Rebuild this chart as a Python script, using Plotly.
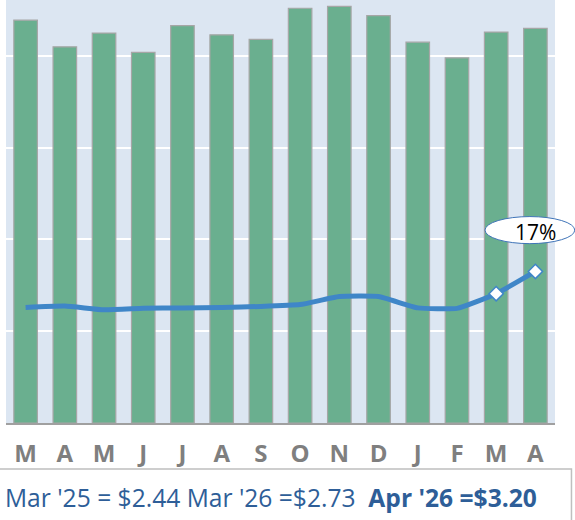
import plotly.graph_objects as go

# monthly bars (left axis, arbitrary units) and price line (right axis, $)
months = ["M", "A", "M", "J", "J", "A", "S", "O", "N", "D", "J", "F", "M", "A"]
volume = [4.39, 4.10, 4.25, 4.04, 4.33, 4.23, 4.18, 4.52, 4.54, 4.44, 4.15, 3.98, 4.26, 4.30]
price = [2.44, 2.47, 2.39, 2.42, 2.43, 2.44, 2.46, 2.50, 2.67, 2.67, 2.43, 2.42, 2.73, 3.20]
change_label = "17%"
summary_plain = "Mar '25 = $2.44 Mar '26 =$2.73&nbsp;&nbsp;"
summary_bold = "Apr '26 =$3.20"

x_pos = list(range(len(months)))

BAR_GREEN = "#6AAF8F"
LINE_BLUE = "#3F86C8"
TEXT_BLUE = "#2E5E98"

fig = go.Figure()

fig.add_trace(go.Bar(
    x=x_pos,
    y=volume,
    marker=dict(color=BAR_GREEN, line=dict(color="#A6A6A6", width=1.2)),
    width=0.6,
    yaxis="y",
    hoverinfo="skip",
))

fig.add_trace(go.Scatter(
    x=x_pos,
    y=price,
    mode="lines",
    line=dict(color=LINE_BLUE, width=5, shape="spline", smoothing=0.4),
    yaxis="y2",
    hoverinfo="skip",
))

# white diamond markers on the last two months only
fig.add_trace(go.Scatter(
    x=x_pos[-2:],
    y=price[-2:],
    mode="markers",
    marker=dict(symbol="diamond", size=11, color="white",
                line=dict(color=LINE_BLUE, width=1.5)),
    yaxis="y2",
    hoverinfo="skip",
))

# callout bubble with percentage change
fig.add_shape(
    type="circle", xref="paper", yref="paper",
    x0=0.8725, x1=1.036, y0=0.424, y1=0.488,
    fillcolor="white", line=dict(color="#3F74B8", width=1),
    layer="above",
)
fig.add_annotation(
    xref="paper", yref="paper", x=0.9636, y=0.452,
    text=change_label, showarrow=False,
    font=dict(family="Open Sans", size=21, color="black"),
    xanchor="center", yanchor="middle",
)

# summary text box below the axis
fig.add_shape(
    type="rect", xref="paper", yref="paper",
    x0=-0.02, x1=1.03, y0=-0.3, y1=-0.109,
    line=dict(color="#BFBFBF", width=1.5), fillcolor="rgba(0,0,0,0)",
    layer="above",
)
fig.add_annotation(
    xref="paper", yref="paper", x=-0.006, y=-0.175,
    text=summary_plain + "<b>" + summary_bold + "</b>",
    showarrow=False, xanchor="left", yanchor="middle",
    font=dict(family="Open Sans", size=24.6, color=TEXT_BLUE),
)

fig.update_layout(
    width=575,
    height=520,
    margin=dict(l=6, r=20, t=0, b=97),
    paper_bgcolor="white",
    plot_bgcolor="#DCE6F2",
    showlegend=False,
    bargap=0.4,
    xaxis=dict(
        range=[-0.5, len(months) - 0.5],
        tickmode="array",
        tickvals=x_pos,
        ticktext=months,
        tickfont=dict(family="Open Sans", size=24, color="#7F7F7F", weight="bold"),
        ticks="outside", ticklen=8, tickcolor="rgba(0,0,0,0)",
        showline=True, linecolor="#A0A0A0", linewidth=2,
        showgrid=False, zeroline=False,
    ),
    yaxis=dict(
        range=[0, 4.61],
        dtick=1,
        showticklabels=False,
        gridcolor="white", gridwidth=1.5,
        zeroline=False,
    ),
    yaxis2=dict(
        range=[0, 8.93],
        overlaying="y",
        side="right",
        showticklabels=False,
        showgrid=False,
        zeroline=False,
    ),
)

fig.write_html("out.html", config={"displayModeBar": False},
               post_script="document.body.style.margin='0';")
